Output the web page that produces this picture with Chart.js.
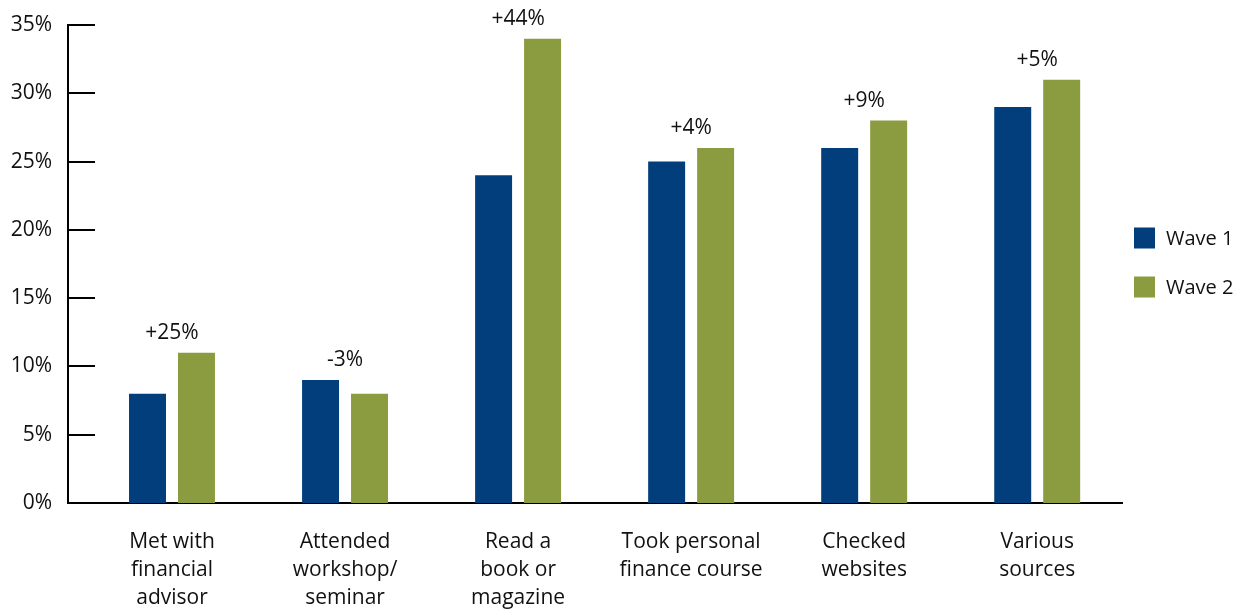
<!DOCTYPE html>
<html>
<head>
<meta charset="utf-8">
<script src="https://cdn.jsdelivr.net/npm/chart.js@4/dist/chart.umd.min.js"></script>
<style>
  html, body { margin: 0; padding: 0; background: #fff; }
  #wrap { width: 1238px; height: 610px; position: relative; }
</style>
</head>
<body>
<div id="wrap"><canvas id="sourcesChart"></canvas></div>
<script>
// Categories (multi-line labels) and values in percent
var categories = [
    ["Met with", "financial", "advisor"],
    ["Attended", "workshop/", "seminar"],
    ["Read a", "book or", "magazine"],
    ["Took personal", "finance course"],
    ["Checked", "websites"],
    ["Various", "sources"]
];
var wave1 = [8, 9, 24, 25, 26, 29];
var wave2 = [11, 8, 34, 26, 28, 31];
var changeLabels = ["+25%", "-3%", "+44%", "+4%", "+9%", "+5%"];
var yTicks = [0, 5, 10, 15, 20, 25, 30, 35];

var FONT = "'Open Sans', 'Noto Sans', sans-serif";

function toPoints(values) {
    return values.map(function (v, i) {
        return { x: i, y: v };
    });
}

// Short tick marks pointing into the plot, change labels over each pair, legend at right
var extras = {
    id: "extras",
    afterDatasetsDraw: function (chart) {
        var ctx = chart.ctx;
        var area = chart.chartArea;
        var yScale = chart.scales.y;
        var xScale = chart.scales.x;

        ctx.save();
        ctx.strokeStyle = "#000";
        ctx.lineWidth = 2;
        yTicks.forEach(function (v) {
            var py = Math.round(yScale.getPixelForValue(v));
            ctx.beginPath();
            ctx.moveTo(area.left, py);
            ctx.lineTo(area.left + 27, py);
            ctx.stroke();
        });

        ctx.fillStyle = "#111";
        ctx.font = "21px " + FONT;
        ctx.textAlign = "center";
        ctx.textBaseline = "middle";
        changeLabels.forEach(function (txt, i) {
            var top = Math.max(wave1[i], wave2[i]);
            ctx.fillText(txt, xScale.getPixelForValue(i), yScale.getPixelForValue(top) - 20);
        });

        // legend
        var midY = (area.top + area.bottom) / 2;
        var boxX = area.right + 12;
        ctx.font = "20px " + FONT;
        ctx.textAlign = "left";
        chart.data.datasets.forEach(function (ds, i) {
            var cy = midY - 26 + i * 49;
            ctx.fillStyle = ds.backgroundColor;
            ctx.fillRect(boxX, cy - 10.5, 21, 21);
            ctx.fillStyle = "#111";
            ctx.fillText(ds.label, boxX + 32, cy + 1);
        });
        ctx.restore();
    }
};

var chart = new Chart(document.getElementById("sourcesChart"), {
    type: "bar",
    data: {
        datasets: [
            {
                label: "Wave 1",
                data: toPoints(wave1),
                backgroundColor: "#023e7c",
                categoryPercentage: 0.566,
                barPercentage: 0.755
            },
            {
                label: "Wave 2",
                data: toPoints(wave2),
                backgroundColor: "#8b9b3f",
                categoryPercentage: 0.566,
                barPercentage: 0.755
            }
        ]
    },
    options: {
        responsive: true,
        maintainAspectRatio: false,
        animation: false,
        layout: {
            padding: { top: 25, left: 8, right: 116, bottom: 0 }
        },
        scales: {
            x: {
                type: "linear",
                offset: false,
                min: -0.601,
                max: 5.49,
                grid: { display: false, drawTicks: false },
                border: { display: true, color: "#000", width: 2 },
                afterBuildTicks: function (scale) {
                    scale.ticks = categories.map(function (c, i) {
                        return { value: i };
                    });
                },
                afterFit: function (scale) {
                    scale.height = 107;
                },
                ticks: {
                    autoSkip: false,
                    maxRotation: 0,
                    padding: 25,
                    color: "#111",
                    font: { family: FONT, size: 21, lineHeight: 1.333 },
                    callback: function (value) {
                        return categories[value] || "";
                    }
                }
            },
            y: {
                min: 0,
                max: 35,
                grid: { display: false, drawTicks: false },
                border: { display: true, color: "#000", width: 2 },
                afterFit: function (scale) {
                    scale.width = 60;
                    scale.paddingTop = 0;
                    scale.paddingBottom = 0;
                },
                ticks: {
                    stepSize: 5,
                    padding: 16,
                    color: "#111",
                    font: { family: FONT, size: 21 },
                    callback: function (value) {
                        return value + "%";
                    }
                }
            }
        },
        plugins: {
            legend: { display: false },
            tooltip: { enabled: false }
        }
    },
    plugins: [extras]
});
</script>
</body>
</html>
